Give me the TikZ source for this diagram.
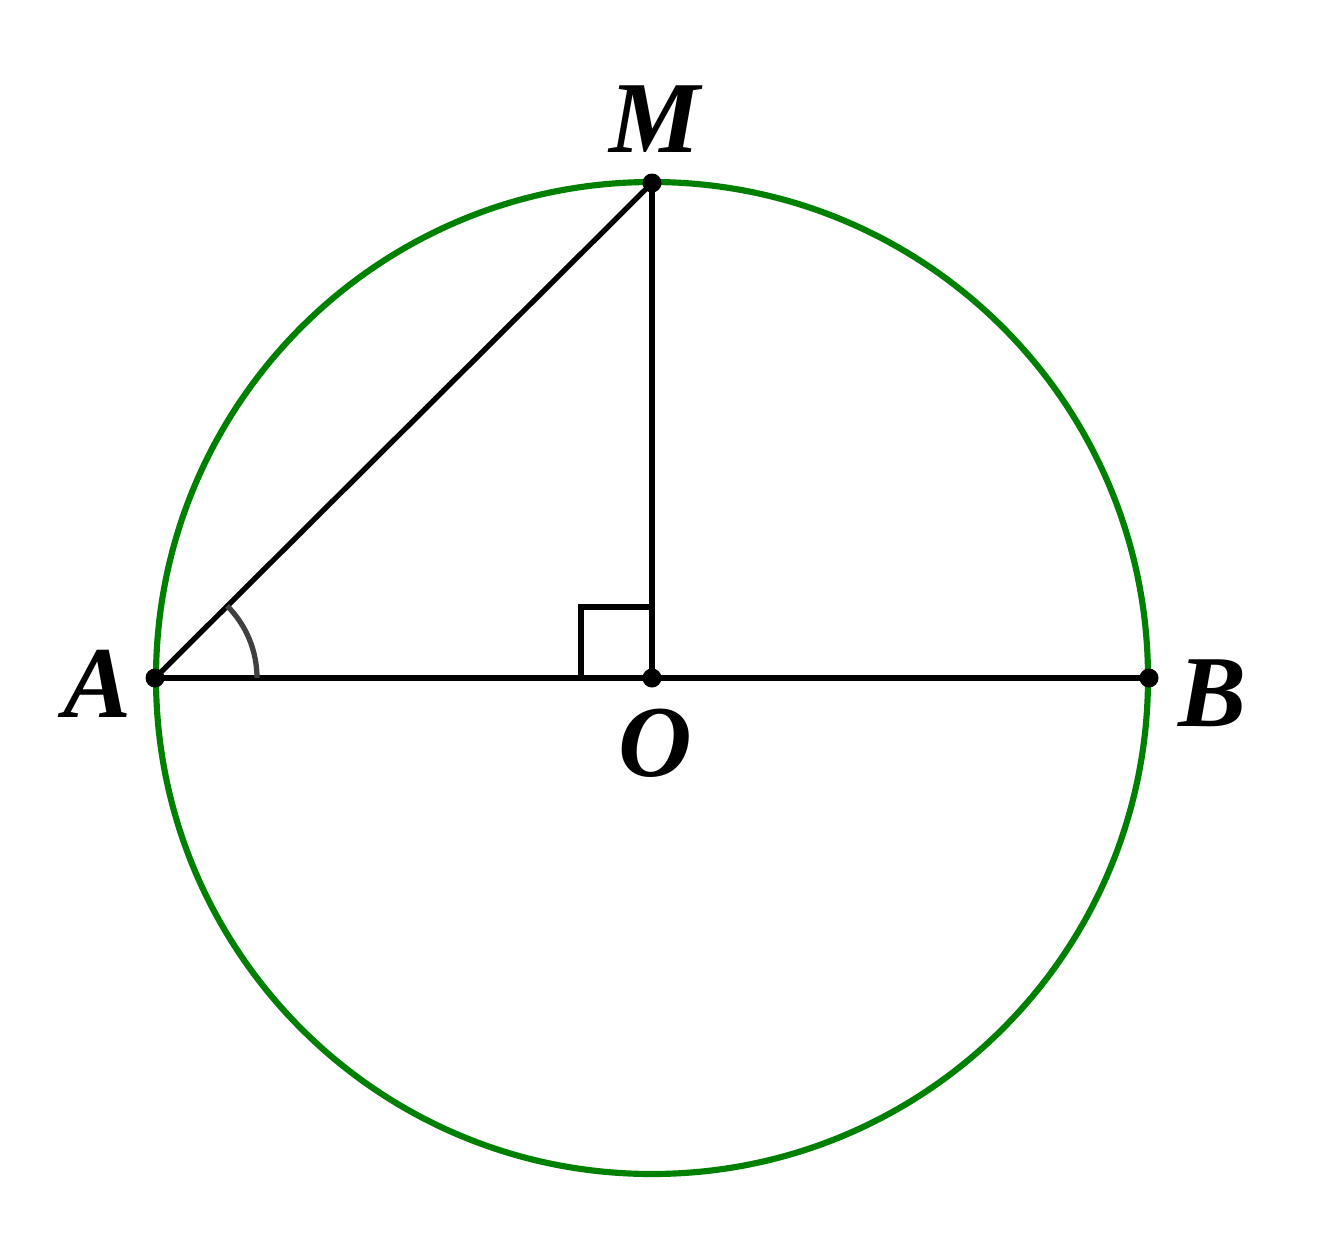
\documentclass[tikz,border=0pt]{standalone}
\usepackage{fontspec}
\setmainfont{Liberation Serif}
\usetikzlibrary{calc}
\definecolor{circgreen}{RGB}{0,128,0}
\definecolor{arcgray}{RGB}{64,64,64}
\tikzset{
  seg/.style={line width=1.5pt, black},
  dot/.style={circle, fill=black, inner sep=0pt, minimum size=0.19cm},
  lbl/.style={font=\fontsize{29}{31}\selectfont\bfseries\itshape, inner sep=0pt}
}
\begin{document}
\begin{tikzpicture}
\useasboundingbox (0,0) rectangle (13.25,12.40);
\coordinate (O) at (6.52,5.62);
\coordinate (A) at (1.55,5.62);
\coordinate (B) at (11.49,5.62);
\coordinate (M) at (6.52,10.57);
\draw[circgreen, line width=1.75pt] (O) circle (4.96);
\draw[seg] (A) -- (B);
\draw[seg] (A) -- (M);
\draw[seg] (O) -- (M);
\draw[seg] ($(O)+(0,0.71)$) -- ++(-0.71,0) -- ++(0,-0.71);
\draw[arcgray, line width=1.5pt] ($(A)+(1.02,0)$) arc[start angle=0, end angle=45, radius=1.02];
\node[dot] (dA) at (A) {};
\node[dot] (dB) at (B) {};
\node[dot] (dO) at (O) {};
\node[dot] (dM) at (M) {};
\node[lbl] (lM) at (6.55,12.40-1.19) {M};
\node[lbl] (lA) at (0.97,12.40-6.84) {A};
\node[lbl] (lB) at (12.12,12.40-6.93) {B};
\node[lbl] (lO) at (6.55,12.40-7.43) {O};
\end{tikzpicture}
\end{document}
